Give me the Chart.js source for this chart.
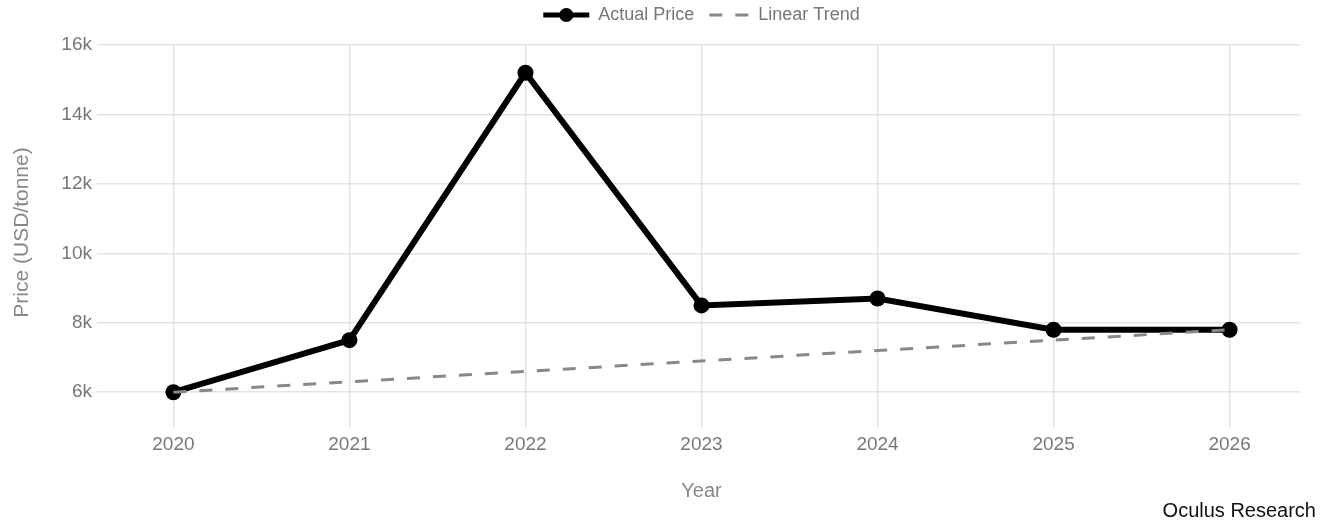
<!DOCTYPE html>
<html>
<head>
<meta charset="utf-8">
<title>Price trend</title>
<script src="https://cdn.jsdelivr.net/npm/chart.js@4.4.0/dist/chart.umd.min.js"></script>
<style>
  html, body { margin: 0; padding: 0; background: #fff; }
  #wrap { position: relative; width: 1330px; height: 523px; }
  #source {
    position: absolute; right: 14px; top: 499px;
    font: 20px "Liberation Sans", Arial, sans-serif; color: #111;
  }
</style>
</head>
<body>
<div id="wrap">
  <canvas id="chart" width="1330" height="523"></canvas>
  <div id="source">Oculus Research</div>
</div>
<script>
const years = [2020, 2021, 2022, 2023, 2024, 2025, 2026];
const actualPrice = [6000, 7500, 15200, 8500, 8700, 7800, 7800];
const trendPrice = [6000, 6300, 6600, 6900, 7200, 7500, 7800];
const yTicks = [6000, 8000, 10000, 12000, 14000, 16000];

const FONT = '"Liberation Sans", Arial, sans-serif';
const GRID = '#e3e3e3';

// legend drawn above the plot, centred on the chart area
const legendItems = [
  { label: 'Actual Price', dataset: 0, width: 46 },
  { label: 'Linear Trend', dataset: 1, width: 40 }
];

const topLegend = {
  id: 'topLegend',
  afterDraw(chart) {
    const ctx = chart.ctx;
    const area = chart.chartArea;
    const gap = 9, spacing = 15, y = 15;
    ctx.save();
    ctx.font = '18px ' + FONT;
    let total = 0;
    legendItems.forEach((it, i) => {
      total += it.width + gap + ctx.measureText(it.label).width + (i ? spacing : 0);
    });
    let x = (area.left + area.right) / 2 - total / 2;
    legendItems.forEach(it => {
      const ds = chart.data.datasets[it.dataset];
      ctx.strokeStyle = ds.borderColor;
      ctx.lineWidth = it.dataset === 0 ? 5 : ds.borderWidth;
      ctx.setLineDash(ds.borderDash || []);
      ctx.beginPath();
      ctx.moveTo(x, y);
      ctx.lineTo(x + it.width, y);
      ctx.stroke();
      ctx.setLineDash([]);
      if (ds.pointRadius) {
        ctx.fillStyle = ds.pointBackgroundColor;
        ctx.beginPath();
        ctx.arc(x + it.width / 2, y, 7, 0, Math.PI * 2);
        ctx.fill();
      }
      x += it.width + gap;
      ctx.fillStyle = '#777';
      ctx.textBaseline = 'middle';
      ctx.fillText(it.label, x, y);
      x += ctx.measureText(it.label).width + spacing;
    });
    ctx.restore();
  }
};

const ctx = document.getElementById('chart').getContext('2d');
const chart = new Chart(ctx, {
  type: 'line',
  data: {
    datasets: [
      {
        label: 'Actual Price',
        data: years.map((x, i) => ({ x, y: actualPrice[i] })),
        borderColor: '#000',
        backgroundColor: '#000',
        borderWidth: 6,
        pointRadius: 8,
        pointBackgroundColor: '#000',
        pointBorderWidth: 0,
        order: 2
      },
      {
        label: 'Linear Trend',
        data: years.map((x, i) => ({ x, y: trendPrice[i] })),
        borderColor: '#888',
        borderWidth: 3,
        borderDash: [13, 13],
        pointRadius: 0,
        order: 1
      }
    ]
  },
  options: {
    responsive: false,
    animation: false,
    layout: { padding: { top: 45, right: 30, bottom: 0, left: 0 } },
    plugins: {
      legend: { display: false },
      tooltip: { enabled: false }
    },
    scales: {
      x: {
        type: 'linear',
        min: 2019.6,
        max: 2026.4,
        afterBuildTicks: scale => { scale.ticks = years.map(v => ({ value: v })); },
        afterFit: scale => { scale.height = 103; },
        grid: { color: GRID, lineWidth: 1.5, tickLength: 8 },
        border: { display: false },
        ticks: {
          color: '#777',
          font: { family: FONT, size: 19 },
          padding: 5,
          maxRotation: 0,
          callback: v => String(v)
        },
        title: {
          display: true,
          text: 'Year',
          color: '#888',
          font: { family: FONT, size: 20 },
          padding: { top: 0, bottom: 20 }
        }
      },
      y: {
        min: 5200,
        max: 16000,
        afterBuildTicks: scale => { scale.ticks = yTicks.map(v => ({ value: v })); },
        afterFit: scale => { scale.width = 103; },
        grid: { color: GRID, lineWidth: 1.5, tickLength: 6 },
        border: { display: false },
        ticks: {
          color: '#777',
          font: { family: FONT, size: 19 },
          padding: 5,
          callback: v => (v / 1000) + 'k'
        },
        title: {
          display: true,
          text: 'Price (USD/tonne)',
          color: '#888',
          font: { family: FONT, size: 21 },
          padding: { top: 10, bottom: 0 }
        }
      }
    }
  },
  plugins: [topLegend]
});
</script>
</body>
</html>
